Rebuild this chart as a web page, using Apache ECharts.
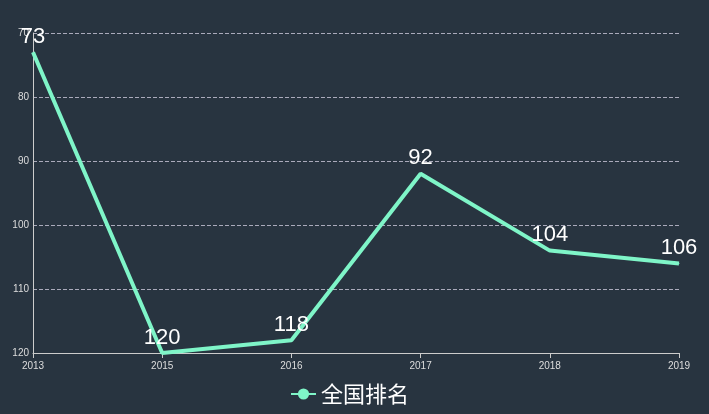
<!DOCTYPE html>
<html><head><meta charset="utf-8">
<script src="https://cdn.jsdelivr.net/npm/echarts@6/dist/echarts.min.js"></script>
<style>html,body{margin:0;padding:0;background:#283440}#c{width:709px;height:414px}</style>
</head><body><div id="c"></div>
<script>
const categories = ['2013','2015','2016','2017','2018','2019'];
const rankValues = [73,120,118,92,104,106];
const yTicks = {min:70,max:120,interval:10};
const chart = echarts.init(document.getElementById('c'));
chart.setOption({
  backgroundColor:'#283440',
  grid:{left:33,right:30,top:33,bottom:61},
  legend:{bottom:4,left:285,data:['全国排名'],textStyle:{color:'#fff',fontSize:22,fontFamily:'Noto Sans CJK SC'},itemWidth:25,itemHeight:14,itemStyle:{opacity:1}},
  xAxis:{type:'category',data:categories,boundaryGap:false,
    axisLine:{lineStyle:{color:'#ccc'}},axisTick:{show:true,lineStyle:{color:'#ccc'}},
    axisLabel:{color:'#ddd',fontSize:10}},
  yAxis:{type:'value',inverse:true,min:yTicks.min,max:yTicks.max,interval:yTicks.interval,
    axisLine:{show:true,lineStyle:{color:'#ccc'}},axisTick:{show:false},
    axisLabel:{color:'#ddd',fontSize:10,margin:4},
    splitLine:{lineStyle:{color:'#aab',type:'dashed'}}},
  series:[{name:'全国排名',type:'line',data:rankValues,symbol:'circle',symbolSize:1,showSymbol:true,
    lineStyle:{width:4,color:'#7ff5c8'},itemStyle:{color:'#7ff5c8'},
    label:{show:true,position:'top',color:'#fff',fontSize:22,distance:4}}]
});
</script></body></html>
